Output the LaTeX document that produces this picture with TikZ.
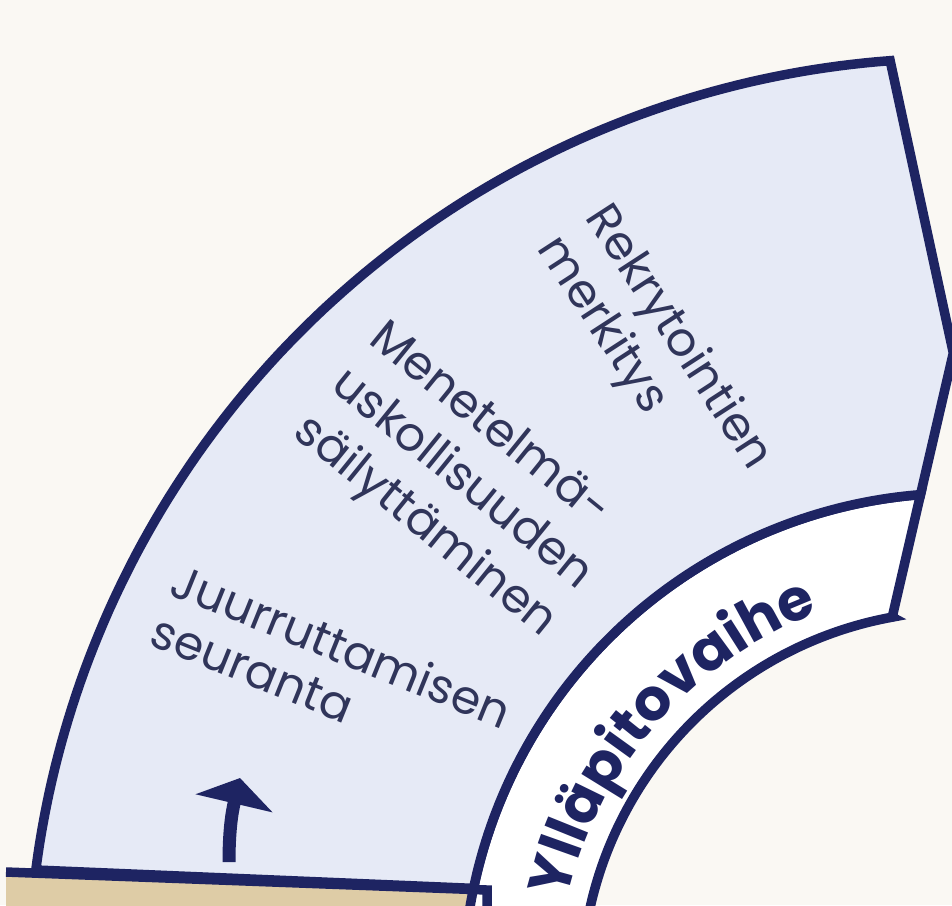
\documentclass[tikz,border=0pt]{standalone}
\usepackage{fontspec}
\setmainfont{Poppins}
\usetikzlibrary{arrows.meta,decorations.text}
\definecolor{bgc}{HTML}{FAF8F3}
\definecolor{navy}{HTML}{1E2462}
\definecolor{seg}{HTML}{E6EAF6}
\definecolor{lbl}{HTML}{30355A}
\definecolor{sand}{HTML}{DECCA6}
\newcommand\bandfont{\fontsize{16.5}{19}\selectfont\bfseries\color{navy}}
\begin{document}
\begin{tikzpicture}[x=0.01cm,y=-0.01cm,
  outline/.style={draw=navy,line width=0.095cm,line join=miter},
  item/.style={text=lbl,align=left,anchor=north west,inner sep=0pt},
]
\useasboundingbox (0,0) rectangle (952,905);
\clip (0,0) rectangle (952,905);
\fill[bgc] (0,0) rectangle (952,905);
\coordinate (C) at (960,990);
\coordinate (tip) at (953.3,353);
\coordinate (inc) at (892.2,617.1);
\coordinate (bl) at (6,872);
\coordinate (br) at (487,890);
\coordinate (bb) at (487,915);
% beige segment below
\fill[sand] (bl) -- (br) -- (bb) -- (6,915) -- cycle;
% white label band
\filldraw[outline,fill=white] plot[domain=186:265.44,samples=80,variable=\t] ({960+497*cos(\t)},{990+497*sin(\t)}) -- (inc) -- plot[domain=259.7:186,samples=80,variable=\t] ({960+379*cos(\t)},{990+379*sin(\t)}) -- cycle;
% blue segment
\filldraw[outline,fill=seg] plot[domain=187.4:265.7,samples=100,variable=\t] ({960+932*cos(\t)},{990+932*sin(\t)}) -- (tip) -- plot[domain=265.44:191.8,samples=80,variable=\t] ({960+497*cos(\t)},{990+497*sin(\t)}) -- cycle;
\draw[outline] (bl) -- (br) -- (bb);
% texts
\node[item,rotate=-57,font=\fontsize{13.4}{16.2}\selectfont] (rek) at (615,197) {Rekrytointien\\merkitys};
\node[item,rotate=-39,font=\fontsize{13.4}{17}\selectfont] (men) at (389,314) {Menetelmä-\\uskollisuuden\\säilyttäminen};
\node[item,rotate=-22,font=\fontsize{13.4}{15.4}\selectfont] (juu) at (181,560) {Juurruttamisen\\seuranta};
% band label
\path[decorate,decoration={text along path,text={|\bandfont|Ylläpitovaihe},text align={left indent=0pt}}] plot[domain=193.0:262,samples=120,variable=\t] ({960+403*cos(\t)},{990+403*sin(\t)});
% arrow
\coordinate (a0) at (229,862);
\coordinate (a1) at (240,778);
\draw[navy,line width=0.13cm,-{Triangle[width=0.78cm,length=0.26cm]}] (a0) .. controls (229,830) and (232,812) .. (a1);
\end{tikzpicture}
\end{document}
